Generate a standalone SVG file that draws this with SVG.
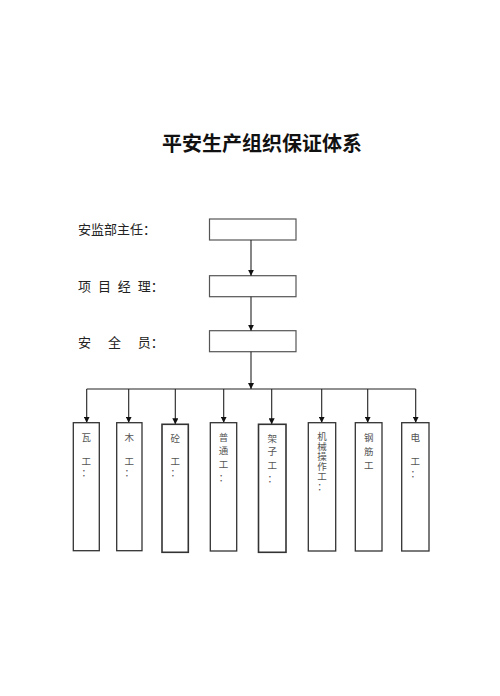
<svg xmlns="http://www.w3.org/2000/svg" width="500" height="696" viewBox="0 0 500 696">
<style>
.title{font-family:"Noto Sans CJK SC","Noto Sans CJK TC",sans-serif;font-size:20px;font-weight:bold;fill:#111}
.lbl{font-family:"Noto Sans CJK SC",sans-serif;font-size:13px;fill:#222}
.topbox{fill:#fff;stroke:#555;stroke-width:1.2}
.box{fill:#fff;stroke:#333;stroke-width:1.3}
.bt{font-family:"Noto Sans CJK SC",sans-serif;font-size:9.5px;fill:#555;text-anchor:middle}
.ln{stroke:#222;stroke-width:1.1;fill:none}
</style>
<defs>
<marker id="ah" viewBox="0 0 8 8" refX="8" refY="4" markerWidth="6" markerHeight="6" markerUnits="userSpaceOnUse" orient="auto">
<path d="M0,0 L8,4 L0,8 Z" fill="#111"/>
</marker>
</defs>
<rect width="500" height="696" fill="#fff"/>
<text class="title" x="262" y="151" text-anchor="middle">平安生产组织保证体系</text>

<g id="n-zhuren">
<text class="lbl" x="78" y="234">安监部主任：</text>
<rect class="topbox" x="209.5" y="219" width="86.5" height="21"/>
</g>
<g id="n-jingli">
<text class="lbl" x="78" y="291" xml:space="preserve" word-spacing="4">项 目 经 理：</text>
<rect class="topbox" x="209.5" y="275.7" width="86.5" height="21"/>
</g>
<g id="n-anquanyuan">
<text class="lbl" x="78" y="347" xml:space="preserve" word-spacing="14">安 全 员：</text>
<rect class="topbox" x="209.5" y="330.7" width="86.5" height="21"/>
</g>

<g id="connectors">
<line class="ln" x1="251" y1="240" x2="251" y2="275.7" marker-end="url(#ah)"/>
<line class="ln" x1="251" y1="296.7" x2="251" y2="330.7" marker-end="url(#ah)"/>
<line class="ln" x1="251" y1="351.7" x2="251" y2="389" marker-end="url(#ah)"/>
<line class="ln" x1="86.7" y1="389" x2="415.7" y2="389"/>
<line class="ln" x1="86.7" y1="389" x2="86.7" y2="422.7" marker-end="url(#ah)"/>
<line class="ln" x1="128.7" y1="389" x2="128.7" y2="422.7" marker-end="url(#ah)"/>
<line class="ln" x1="175.3" y1="389" x2="175.3" y2="424.3" marker-end="url(#ah)"/>
<line class="ln" x1="223.7" y1="389" x2="223.7" y2="422.7" marker-end="url(#ah)"/>
<line class="ln" x1="271.7" y1="389" x2="271.7" y2="424.3" marker-end="url(#ah)"/>
<line class="ln" x1="321.7" y1="389" x2="321.7" y2="422.7" marker-end="url(#ah)"/>
<line class="ln" x1="367.7" y1="389" x2="367.7" y2="422.7" marker-end="url(#ah)"/>
<line class="ln" x1="415.7" y1="389" x2="415.7" y2="422.7" marker-end="url(#ah)"/>
</g>

<g id="n-wa">
<rect class="box" x="73.3" y="422.7" width="26" height="128"/>
<text class="bt"><tspan x="86.3" y="441">瓦</tspan><tspan x="86.3" y="464.5">工</tspan><tspan x="86.3" y="476">：</tspan></text>
</g>
<g id="n-mu">
<rect class="box" x="116.7" y="422.7" width="25.3" height="128"/>
<text class="bt"><tspan x="129.3" y="441">木</tspan><tspan x="129.3" y="464.5">工</tspan><tspan x="129.3" y="476">：</tspan></text>
</g>
<g id="n-tong">
<rect class="box" x="162" y="424.3" width="26.3" height="128" style="stroke-width:1.6"/>
<text class="bt"><tspan x="175.2" y="442">砼</tspan><tspan x="175.2" y="465">工</tspan><tspan x="175.2" y="476">：</tspan></text>
</g>
<g id="n-putong">
<rect class="box" x="210.3" y="422.7" width="26.4" height="128.3"/>
<text class="bt"><tspan x="223.5" y="440.5">普</tspan><tspan x="223.5" y="454">通</tspan><tspan x="223.5" y="467.5">工</tspan><tspan x="223.5" y="481">：</tspan></text>
</g>
<g id="n-jiazi">
<rect class="box" x="258.5" y="424.3" width="27.5" height="128" style="stroke-width:1.6"/>
<text class="bt"><tspan x="272.2" y="441.5">架</tspan><tspan x="272.2" y="455">子</tspan><tspan x="272.2" y="468.5">工</tspan><tspan x="272.2" y="482">：</tspan></text>
</g>
<g id="n-jixie">
<rect class="box" x="308.3" y="422.7" width="27.4" height="128.3"/>
<text class="bt"><tspan x="322" y="440">机</tspan><tspan x="322" y="450">械</tspan><tspan x="322" y="460">操</tspan><tspan x="322" y="470">作</tspan><tspan x="322" y="480">工</tspan><tspan x="322" y="490">：</tspan></text>
</g>
<g id="n-gangjin">
<rect class="box" x="355.3" y="422.7" width="26.7" height="128.3"/>
<text class="bt"><tspan x="368.7" y="440.5">钢</tspan><tspan x="368.7" y="454.5">筋</tspan><tspan x="368.7" y="468.5">工</tspan></text>
</g>
<g id="n-dian">
<rect class="box" x="401.7" y="422.7" width="27.3" height="128.3"/>
<text class="bt"><tspan x="415.3" y="441">电</tspan><tspan x="415.3" y="465">工</tspan><tspan x="415.3" y="477">：</tspan></text>
</g>
</svg>
